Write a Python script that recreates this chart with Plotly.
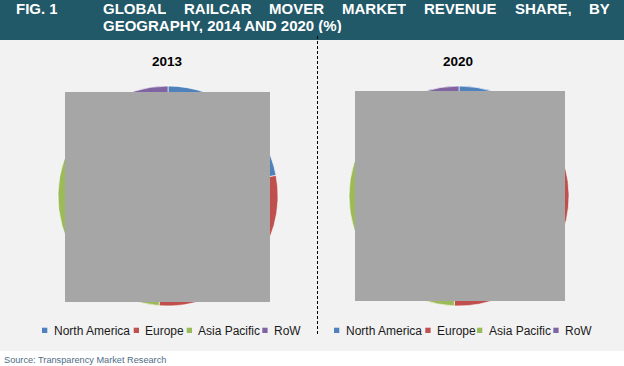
import plotly.graph_objects as go

# ---------------- data ----------------
regions = ["North America", "Europe", "Asia Pacific", "RoW"]
colors = ["#4f81bd", "#c0504d", "#9bbb59", "#8064a2"]
years = ["2013", "2020"]
share_2013 = [22.0, 29.3, 38.7, 10.0]
share_2020 = [21.0, 29.7, 38.8, 10.5]

fig_label = "FIG. 1"
title_line1 = "GLOBAL RAILCAR MOVER MARKET REVENUE SHARE, BY"
title_line2 = "GEOGRAPHY, 2014 AND 2020 (%)"
source_text = "Source: Transparency Market Research"

# ---------------- layout helpers ----------------
W, H = 624, 366


def px(x):
    return x / W


def py(y):
    return 1 - y / H


FONT = "Arial, Liberation Sans, sans-serif"

fig = go.Figure()

# pies: centre (168,196) and (459,196), radius 110 px
pie_specs = [
    (share_2013, (168, 196)),
    (share_2020, (459, 196)),
]
R = 110
for vals, (cx, cy) in pie_specs:
    fig.add_trace(go.Pie(
        labels=regions,
        values=vals,
        sort=False,
        direction="clockwise",
        rotation=0,
        marker=dict(colors=colors, line=dict(color="#ffffff", width=0.6)),
        textinfo="none",
        hoverinfo="label+percent",
        showlegend=False,
        domain=dict(x=[px(cx - R), px(cx + R)], y=[py(cy + R), py(cy - R)]),
    ))

shapes = []
# header band and grey background
shapes.append(dict(type="rect", xref="paper", yref="paper", layer="below",
                   x0=0, x1=1, y0=py(40), y1=1, fillcolor="#215968", line_width=0))
shapes.append(dict(type="rect", xref="paper", yref="paper", layer="below",
                   x0=0, x1=1, y0=py(351), y1=py(40), fillcolor="#f2f2f2", line_width=0))
# grey boxes covering the pies
for (x0, y0, x1, y1) in [(65, 92, 270, 302), (355, 91, 565, 301)]:
    shapes.append(dict(type="rect", xref="paper", yref="paper", layer="above",
                       x0=px(x0), x1=px(x1), y0=py(y1), y1=py(y0),
                       fillcolor="#a6a6a6", line_width=0))
# dashed divider
shapes.append(dict(type="line", xref="paper", yref="paper", layer="above",
                   x0=px(317.5), x1=px(317.5), y0=py(36), y1=py(335),
                   line=dict(color="#000000", width=1, dash="3px,2px")))

annotations = []
HDR = dict(xref="paper", yref="paper", xanchor="left", yanchor="middle", showarrow=False,
           height=16, borderpad=0, font=dict(family=FONT, size=15, color="#ffffff"))
# header text
annotations.append(dict(text="<b>%s</b>" % fig_label, x=px(15), y=py(8.5), **HDR))
word_x = [102, 183, 268.2, 340.9, 422.7, 513.5, 588]
for w, xw in zip(title_line1.split(" "), word_x):
    annotations.append(dict(text="<b>%s</b>" % w, x=px(xw), y=py(8.5), **HDR))
annotations.append(dict(text="<b>%s</b>" % title_line2, x=px(102), y=py(24.5), **HDR))

# pie titles
for yr, (vals, (cx, cy)) in zip(years, pie_specs):
    annotations.append(dict(text="<b>%s</b>" % yr, x=px(cx - 1), y=py(61.5), xref="paper", yref="paper",
                            xanchor="center", yanchor="middle", showarrow=False,
                            font=dict(family=FONT, size=13.5, color="#000000")))

# legends (one under each pie)
legend_square_x = [[42, 133.7, 186.7, 262.3], [334, 425.3, 477, 553.3]]
for sx_list in legend_square_x:
    for lab, col, sx in zip(regions, colors, sx_list):
        shapes.append(dict(type="rect", xref="paper", yref="paper", layer="above",
                           x0=px(sx), x1=px(sx + 5.3), y0=py(333), y1=py(327.7),
                           fillcolor=col, line_width=0))
        annotations.append(dict(text=lab, x=px(sx + 9.5), y=py(330.5), xref="paper", yref="paper",
                                xanchor="left", yanchor="middle", showarrow=False,
                                font=dict(family=FONT, size=12, color="#1a1a1a")))

# source
annotations.append(dict(text=source_text, x=px(1.5), y=py(359.5), xref="paper", yref="paper",
                        xanchor="left", yanchor="middle", showarrow=False,
                        font=dict(family=FONT, size=9.2, color="#4f6d86")))

fig.update_layout(
    width=W, height=H,
    margin=dict(l=0, r=0, t=0, b=0),
    paper_bgcolor="#ffffff",
    plot_bgcolor="#ffffff",
    showlegend=False,
    shapes=shapes,
    annotations=annotations,
)

fig.write_html(
    "out.html",
    config={"displayModeBar": False},
    post_script="document.body.style.margin='0';document.body.style.padding='0';"
                "document.body.style.overflow='hidden';",
)
